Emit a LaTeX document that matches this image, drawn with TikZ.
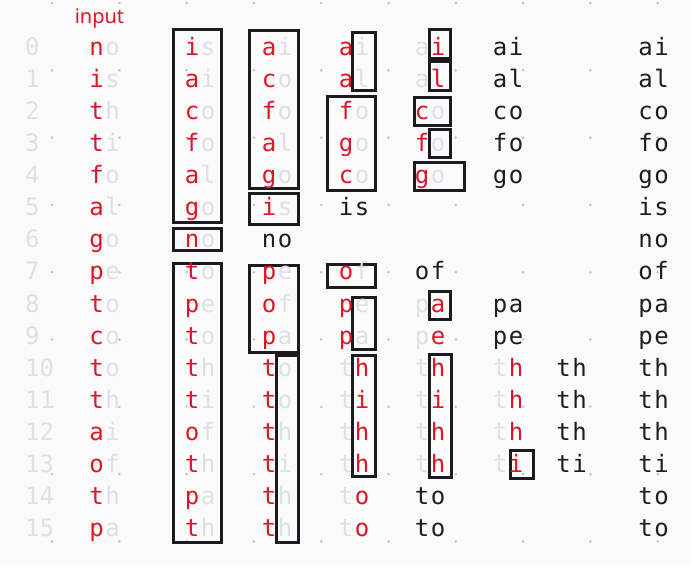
\documentclass[tikz,border=0pt]{standalone}
\usepackage{fontspec}
\newfontfamily\monofont{DejaVu Sans Mono}
\newfontfamily\labelfont{Noto Sans}
\definecolor{cR}{RGB}{218,22,40}
\definecolor{cG}{RGB}{221,224,230}
\definecolor{cK}{RGB}{30,30,30}
\definecolor{boxcol}{RGB}{25,27,30}
\definecolor{bgcol}{RGB}{250,250,250}
\definecolor{dotcol}{RGB}{200,200,200}
\tikzset{
  ch/.style={font=\monofont\fontsize{24}{24}\selectfont, inner sep=0pt, anchor=base},
  bx/.style={draw=boxcol, line width=3.2pt},
}
\newcommand\sortcol[3]{%
  \foreach \r/\a/\ca/\b/\cb in {#3} {%
    \node[ch,text=\ca] (#1-\r-a) at (#2,{55+32.13*\r}) {\a};
    \node[ch,text=\cb] (#1-\r-b) at ({#2+16},{55+32.13*\r}) {\b};
  }}
\begin{document}
\begin{tikzpicture}[x=1pt,y=-1pt]
\useasboundingbox (0,0) rectangle (691,566);
\fill[bgcol] (0,0) rectangle (691,566);
\foreach \i in {0,...,9} \foreach \j in {0,...,8}
  \fill[dotcol] ({52+67.3*\i},{3+67.3*\j}) circle (1.5pt);
% row numbers
\foreach \r in {0,...,15}
  \node[ch,text=cG,anchor=base west] (num-\r) at (25,{55+32.13*\r}) {\r};
% label
\node[font=\labelfont\fontsize{20}{20}\selectfont, text=cR, anchor=base, inner sep=0pt] (inlabel) at (99.5,23) {input};
% boxes
\draw[bx] (173.6,29.6) rectangle (221.4,222.4);
\draw[bx] (173.6,228.6) rectangle (221.4,250.4);
\draw[bx] (173.6,263.6) rectangle (221.4,542.4);
\draw[bx] (249.6,30.6) rectangle (298.4,188.4);
\draw[bx] (249.6,193.6) rectangle (298.4,224.4);
\draw[bx] (249.6,265.6) rectangle (298.4,352.4);
\draw[bx] (276.6,355.6) rectangle (298.4,542.4);
\draw[bx] (352.6,32.6) rectangle (375.4,90.4);
\draw[bx] (327.6,96.6) rectangle (375.4,190.4);
\draw[bx] (327.6,264.6) rectangle (375.4,287.4);
\draw[bx] (352.6,297.6) rectangle (375.4,349.4);
\draw[bx] (352.6,355.6) rectangle (375.4,476.4);
\draw[bx] (429.6,29.6) rectangle (450.4,58.4);
\draw[bx] (429.6,61.6) rectangle (450.4,90.4);
\draw[bx] (414.6,97.6) rectangle (450.4,125.4);
\draw[bx] (429.6,129.6) rectangle (450.4,157.4);
\draw[bx] (414.6,162.6) rectangle (464.4,190.4);
\draw[bx] (429.6,291.6) rectangle (450.4,319.4);
\draw[bx] (429.6,354.6) rectangle (451.4,477.4);
\draw[bx] (510.6,450.6) rectangle (533.4,478.4);
% columns
\sortcol{A}{96.5}{0/n/cR/o/cG,1/i/cR/s/cG,2/t/cR/h/cG,3/t/cR/i/cG,4/f/cR/o/cG,5/a/cR/l/cG,6/g/cR/o/cG,7/p/cR/e/cG,8/t/cR/o/cG,9/c/cR/o/cG,10/t/cR/o/cG,11/t/cR/h/cG,12/a/cR/i/cG,13/o/cR/f/cG,14/t/cR/h/cG,15/p/cR/a/cG}
\sortcol{B}{192}{0/i/cR/s/cG,1/a/cR/i/cG,2/c/cR/o/cG,3/f/cR/o/cG,4/a/cR/l/cG,5/g/cR/o/cG,6/n/cR/o/cG,7/t/cR/o/cG,8/p/cR/e/cG,9/t/cR/o/cG,10/t/cR/h/cG,11/t/cR/i/cG,12/o/cR/f/cG,13/t/cR/h/cG,14/p/cR/a/cG,15/t/cR/h/cG}
\sortcol{C}{269}{0/a/cR/i/cG,1/c/cR/o/cG,2/f/cR/o/cG,3/a/cR/l/cG,4/g/cR/o/cG,5/i/cR/s/cG,6/n/cK/o/cK,7/p/cR/e/cG,8/o/cR/f/cG,9/p/cR/a/cG,10/t/cR/o/cG,11/t/cR/o/cG,12/t/cR/h/cG,13/t/cR/i/cG,14/t/cR/h/cG,15/t/cR/h/cG}
\sortcol{D}{346}{0/a/cR/i/cG,1/a/cR/l/cG,2/f/cR/o/cG,3/g/cR/o/cG,4/c/cR/o/cG,5/i/cK/s/cK,7/o/cR/f/cG,8/p/cR/e/cG,9/p/cR/a/cG,10/t/cG/h/cR,11/t/cG/i/cR,12/t/cG/h/cR,13/t/cG/h/cR,14/t/cG/o/cR,15/t/cG/o/cR}
\sortcol{E}{422}{0/a/cG/i/cR,1/a/cG/l/cR,2/c/cR/o/cG,3/f/cR/o/cG,4/g/cR/o/cG,7/o/cK/f/cK,8/p/cG/a/cR,9/p/cG/e/cR,10/t/cG/h/cR,11/t/cG/i/cR,12/t/cG/h/cR,13/t/cG/h/cR,14/t/cK/o/cK,15/t/cK/o/cK}
\sortcol{F}{500}{0/a/cK/i/cK,1/a/cK/l/cK,2/c/cK/o/cK,3/f/cK/o/cK,4/g/cK/o/cK,8/p/cK/a/cK,9/p/cK/e/cK,10/t/cG/h/cR,11/t/cG/h/cR,12/t/cG/h/cR,13/t/cG/i/cR}
\sortcol{G}{563.5}{10/t/cK/h/cK,11/t/cK/h/cK,12/t/cK/h/cK,13/t/cK/i/cK}
\sortcol{H}{645.5}{0/a/cK/i/cK,1/a/cK/l/cK,2/c/cK/o/cK,3/f/cK/o/cK,4/g/cK/o/cK,5/i/cK/s/cK,6/n/cK/o/cK,7/o/cK/f/cK,8/p/cK/a/cK,9/p/cK/e/cK,10/t/cK/h/cK,11/t/cK/h/cK,12/t/cK/h/cK,13/t/cK/i/cK,14/t/cK/o/cK,15/t/cK/o/cK}
\end{tikzpicture}
\end{document}
